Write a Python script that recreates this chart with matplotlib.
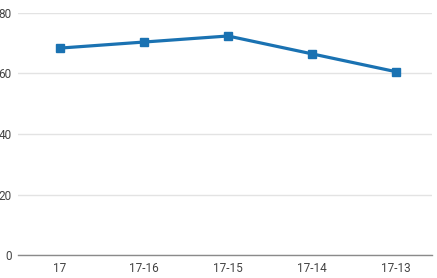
import matplotlib.pyplot as plt

# data
categories = ["17", "17-16", "17-15", "17-14", "17-13"]
values = [68.4, 70.4, 72.4, 66.5, 60.6]
y_ticks = [0, 20, 40, 60, 80]

plt.rcParams['font.family'] = ['Roboto', 'DejaVu Sans']

fig = plt.figure(figsize=(4.37, 2.78), dpi=100)
ax = fig.add_axes([18 / 437, 23 / 278, 414 / 437, 242 / 278])

x = list(range(len(categories)))
ax.plot(x, values, color='#1a72b2', linewidth=2.3, marker='s',
        markersize=6, clip_on=False, zorder=3)

ax.set_xlim(-0.5, 4.43)
ax.set_ylim(0, 80)
ax.set_xticks(x)
ax.set_xticklabels(categories)
ax.set_yticks(y_ticks)

ax.grid(axis='y', color='#e3e3e3', linewidth=1)
ax.set_axisbelow(True)
for side in ['top', 'right', 'left']:
    ax.spines[side].set_visible(False)
ax.spines['bottom'].set_color('#8a8a8a')
ax.spines['bottom'].set_linewidth(1)

ax.tick_params(axis='both', length=0, labelsize=8.5, labelcolor='#444444')
ax.tick_params(axis='y', pad=4.5)
ax.tick_params(axis='x', pad=5)

fig.savefig('out.png', dpi=100)
